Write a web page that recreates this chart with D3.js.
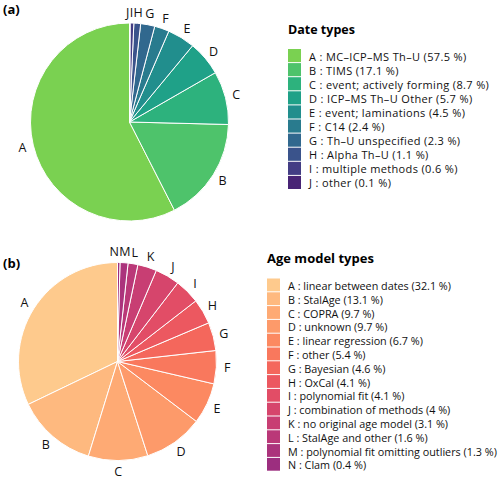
<!DOCTYPE html>
<html><head><meta charset="utf-8">
<script src="https://cdn.jsdelivr.net/npm/d3@7/dist/d3.min.js"></script>
<style>body{margin:0;background:#fff}svg{display:block}text{font-family:"Open Sans",sans-serif}</style>
</head><body>
<script>
const dateKeys = ["A","B","C","D","E","F","G","H","I","J"];
const dateNames = ["MC\u2013ICP\u2013MS Th\u2013U","TIMS","event; actively forming","ICP\u2013MS Th\u2013U Other","event; laminations","C14","Th\u2013U unspecified","Alpha Th\u2013U","multiple methods","other"];
const dateValues = [57.5,17.1,8.7,5.7,4.5,2.4,2.3,1.1,0.6,0.1];

const ageKeys = ["A","B","C","D","E","F","G","H","I","J","K","L","M","N"];
const ageNames = ["linear between dates","StalAge","COPRA","unknown","linear regression","other","Bayesian","OxCal","polynomial fit","combination of methods","no original age model","StalAge and other","polynomial fit omitting outliers","Clam"];
const ageValues = [32.1,13.1,9.7,9.7,6.7,5.4,4.6,4.1,4.1,4,3.1,1.6,1.3,0.4];

const W = 500, H = 479;
const svg = d3.select("body").append("svg").attr("width", W).attr("height", H);

function panel(opt) {
  const n = opt.keys.length;
  const color = d3.scaleLinear().domain([0, n - 1]).range(opt.tRange);
  const col = i => opt.interp(color(i));
  const data = opt.keys.map((k, i) => ({k, name: opt.names[i], v: opt.values[i], i}));
  const pie = d3.pie().sort(null).value(d => d.v).startAngle(0).endAngle(-2 * Math.PI);
  const arcs = pie(data);
  const arc = d3.arc().innerRadius(0).outerRadius(opt.r);
  const labArc = d3.arc().innerRadius(opt.r + 11).outerRadius(opt.r + 11);
  const g = svg.append("g").attr("transform", `translate(${opt.cx},${opt.cy})`);
  g.selectAll("path").data(arcs).join("path")
    .attr("d", arc).attr("fill", d => col(d.data.i))
    .attr("stroke", "#fff").attr("stroke-width", 1);
  const labs = g.selectAll("text.lab").data(arcs).join("text").attr("class", "lab")
    .attr("text-anchor", "middle").attr("dominant-baseline", "central")
    .style("font-size", "12.5px").attr("fill", "#111")
    .text(d => d.data.k);
  const pos = arcs.map((d, j) => {
    const c = labArc.centroid(d);
    return {x: c[0], y: c[1], w: labs.nodes()[j].getComputedTextLength()};
  });
  // resolve overlaps of the small slices near the top: each label must stay left of the previous one
  for (let j = 1; j < n; j++) {
    const a = pos[j - 1], b = pos[j];
    if (Math.abs(a.y - b.y) < 10 && a.y < 0 && b.y < 0) {
      const minGap = (a.w + b.w) / 2 + 0.3;
      if (a.x - b.x < minGap) b.x = a.x - minGap;
    }
  }
  labs.attr("x", (d, j) => pos[j].x).attr("y", (d, j) => pos[j].y);

  svg.append("text").attr("x", opt.tagX).attr("y", opt.tagY)
    .style("font-size", "13px").style("font-weight", "bold").text(opt.tag);

  const lg = svg.append("g").attr("transform", `translate(${opt.lx},${opt.ly})`);
  lg.append("text").attr("x", 0).attr("y", 0).style("font-size", opt.titleSize)
    .style("font-weight", "bold").text(opt.title);
  const items = lg.selectAll("g.it").data(data).join("g").attr("class", "it")
    .attr("transform", d => `translate(0,${opt.l0 + d.i * opt.ls})`);
  items.append("rect").attr("x", 0).attr("y", 0).attr("width", 13).attr("height", opt.ls - 1)
    .attr("fill", d => col(d.i));
  items.append("text").attr("x", opt.tx).attr("y", opt.ls / 2)
    .attr("dominant-baseline", "central").style("font-size", opt.itemSize)
    .style("letter-spacing", opt.itemSpacing).attr("fill", "#111")
    .text(d => `${d.k} : ${d.name} (${d.v} %)`);
}

panel({keys: dateKeys, names: dateNames, values: dateValues, interp: d3.interpolateViridis,
  tRange: [0.8, 0.1], cx: 129.5, cy: 122, r: 99, tag: "(a)", tagX: 3, tagY: 14,
  title: "Date types", titleSize: "12.5px", itemSize: "11px", itemSpacing: "0.35px",
  lx: 288, ly: 33.5, l0: 15.5, ls: 14.1, tx: 21});

panel({keys: ageKeys, names: ageNames, values: ageValues, interp: d3.interpolateMagma,
  tRange: [0.89, 0.44], cx: 117.5, cy: 361.5, r: 99, tag: "(b)", tagX: 3, tagY: 268,
  title: "Age model types", titleSize: "13px", itemSize: "10.8px", itemSpacing: "0px",
  lx: 267, ly: 262.5, l0: 16, ls: 13.8, tx: 21});
</script>
</body></html>
